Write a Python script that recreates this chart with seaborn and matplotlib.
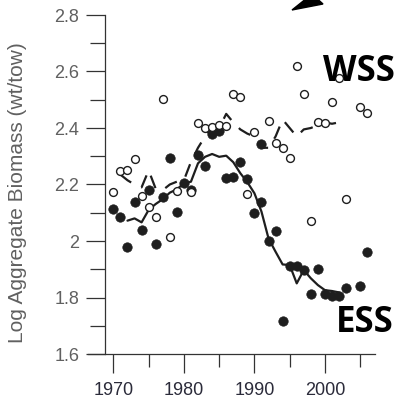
import numpy as np
import pandas as pd
import matplotlib
matplotlib.use("Agg")
import matplotlib.pyplot as plt
from matplotlib.patches import Polygon
import seaborn as sns

# ESS (filled circles)
ess_year = [1970, 1971, 1972, 1973, 1974, 1975, 1976, 1977, 1978, 1979, 1980, 1981,
            1982, 1983, 1984, 1985, 1986, 1987, 1988, 1989, 1990, 1991, 1992, 1993,
            1994, 1995, 1996, 1997, 1998, 1999, 2000, 2001, 2002, 2003, 2005, 2006]
ess_val = [2.115, 2.085, 1.978, 2.137, 2.040, 2.180, 1.990, 2.155, 2.293, 2.104, 2.206, 2.180,
           2.305, 2.265, 2.378, 2.390, 2.222, 2.228, 2.279, 2.219, 2.100, 2.137, 2.000, 2.035,
           1.717, 1.911, 1.911, 1.897, 1.812, 1.901, 1.812, 1.806, 1.806, 1.833, 1.841, 1.962]
# extra dark point near 1991
odd_year = [1991]
odd_val = [2.343]

# WSS (open circles)
wss_year = [1970, 1971, 1972, 1973, 1974, 1975, 1976, 1977, 1978, 1979, 1981, 1982,
            1983, 1984, 1985, 1986, 1987, 1988, 1989, 1990, 1992, 1993, 1994, 1995,
            1996, 1997, 1998, 1999, 2000, 2001, 2002, 2003, 2005, 2006]
wss_val = [2.172, 2.248, 2.251, 2.289, 2.160, 2.121, 2.086, 2.502, 2.015, 2.178, 2.172, 2.419,
           2.400, 2.405, 2.410, 2.408, 2.520, 2.510, 2.165, 2.387, 2.426, 2.346, 2.328, 2.293,
           2.620, 2.521, 2.072, 2.422, 2.416, 2.493, 2.576, 2.149, 2.474, 2.453]

# trend lines
ess_trend_year = [1972, 1973, 1974, 1975, 1976, 1977, 1978, 1979, 1980, 1981, 1982, 1983,
                  1984, 1985, 1986, 1987, 1988, 1989, 1990, 1991, 1992, 1993, 1994, 1995,
                  1996, 1997, 1998, 1999, 2000, 2001, 2002]
ess_trend_val = [2.072, 2.080, 2.066, 2.110, 2.131, 2.148, 2.171, 2.183, 2.204, 2.210, 2.275, 2.298,
                 2.308, 2.298, 2.302, 2.279, 2.240, 2.208, 2.169, 2.104, 2.009, 1.962, 1.917, 1.915,
                 1.850, 1.897, 1.868, 1.844, 1.826, 1.823, 1.818]
wss_trend_year = [1971, 1972, 1973, 1974, 1975, 1976, 1977, 1978, 1979, 1980, 1981, 1982,
                  1983, 1984, 1985, 1986, 1987, 1988, 1989, 1990, 1991, 1992, 1993, 1994,
                  1995, 1996, 1997, 1998, 1999, 2000, 2001, 2002, 2003]
wss_trend_val = [2.235, 2.215, 2.200, 2.190, 2.250, 2.185, 2.180, 2.200, 2.210, 2.215, 2.280, 2.330,
                 2.370, 2.400, 2.400, 2.450, 2.420, 2.395, 2.380, 2.370, 2.330, 2.330, 2.370, 2.430,
                 2.400, 2.370, 2.395, 2.400, 2.410, 2.420, 2.415, 2.420, 2.430]

x_major = [1970, 1980, 1990, 2000]
x_minor = [1975, 1985, 1995, 2005]
y_major = [1.6, 1.8, 2.0, 2.2, 2.4, 2.6, 2.8]
y_minor = [1.7, 1.9, 2.1, 2.3, 2.5, 2.7]
y_labels = ["1.6", "1.8", "2", "2.2", "2.4", "2.6", "2.8"]

sns.set_style("ticks")
plt.rcParams['font.family'] = ['Liberation Sans', 'DejaVu Sans']

fig = plt.figure(figsize=(4.05, 4.11), dpi=100)
ax = fig.add_axes([88/405, 1-354/411, (375-88)/405, (354-15)/411])

ink = "#1e1e1e"
sns.lineplot(x=ess_trend_year, y=ess_trend_val, ax=ax, color=ink, lw=1.6, sort=False, estimator=None)
sns.lineplot(x=wss_trend_year, y=wss_trend_val, ax=ax, color=ink, lw=1.6, sort=False, estimator=None,
             dashes=False, linestyle=(0, (6, 5)))
sns.scatterplot(x=ess_year, y=ess_val, ax=ax, color=ink, s=46, edgecolor=ink, linewidth=0.5, zorder=3)
sns.scatterplot(x=odd_year, y=odd_val, ax=ax, color=ink, s=46, edgecolor=ink, linewidth=0.5, zorder=3)
sns.scatterplot(x=wss_year, y=wss_val, ax=ax, facecolor="white", s=32, edgecolor=ink, linewidth=1.0, zorder=4)

ax.set_xlim(1966.4, 2007.1)
ax.set_ylim(1.6, 2.8)
ax.spines['top'].set_visible(False)
ax.spines['right'].set_visible(False)
ax.spines['left'].set_position(('data', 1968.8))
for s in ['left', 'bottom']:
    ax.spines[s].set_color("#333333")
    ax.spines[s].set_linewidth(0.9)

ax.set_xticks(x_major)
ax.set_xticks(x_minor, minor=True)
ax.set_xticklabels([str(v) for v in x_major])
ax.set_yticks(y_major)
ax.set_yticks(y_minor, minor=True)
ax.set_yticklabels(y_labels)
ax.tick_params(axis='both', which='both', bottom=True, left=True, top=False, right=False, direction='out')
ax.tick_params(axis='both', which='major', length=13.5, width=0.9, color="#333333", labelsize=13)
ax.tick_params(axis='both', which='minor', length=9.5, width=0.9, color="#333333")
ax.tick_params(axis='x', which='major', pad=7, labelcolor="#2b2b3a")
ax.tick_params(axis='y', which='major', pad=5, labelcolor="#606060")
ax.tick_params(axis='y', which='minor', length=11)
ax.set_xlabel("")
ax.set_ylabel("")

fig.text(18/405, 1-193/411, "Log Aggregate Biomass (wt/tow)", rotation=90, ha='center', va='center',
         fontsize=15, color="#606060")

fig.text(359/405, 1-72/411, "WSS", ha='center', va='center', fontsize=25, fontweight='bold',
         family=['Open Sans', 'DejaVu Sans'], color='black')
fig.text(365/405, 1-323/411, "ESS", ha='center', va='center', fontsize=25, fontweight='bold',
         family=['Open Sans', 'DejaVu Sans'], color='black')

arrow = Polygon([[292/405, 1-10/411], [312/405, 1+6/411], [323/405, 1-4/411]], closed=True,
                transform=fig.transFigure, color='black')
fig.patches.append(arrow)

fig.savefig("out.png", dpi=100, facecolor="white")
